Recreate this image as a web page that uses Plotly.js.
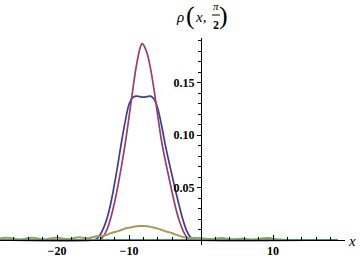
<!DOCTYPE html>
<html><head><meta charset="utf-8">
<script src="https://cdn.plot.ly/plotly-3.0.1.min.js"></script>
<style>html,body{margin:0;padding:0;background:#fff}#plot{width:360px;height:260px}</style>
</head><body><div id="plot"></div>
<script>
// Red (magenta) curve
const redX = [-28, -14.5, -14, -13.5, -13, -12.5, -12, -11.5, -11, -10.5, -10, -9.5, -9, -8.5, -8.2, -8, -7.5, -7, -6.5, -6, -5.5, -5, -4.5, -4, -3.5, -3, -2.5, -2, -1.5, -1, 19];
const redY = [0, 0, 0.0005, 0.004, 0.011, 0.022, 0.036, 0.053, 0.072, 0.093, 0.117, 0.142, 0.165, 0.182, 0.187, 0.186, 0.178, 0.163, 0.142, 0.118, 0.095, 0.077, 0.061, 0.045, 0.030, 0.018, 0.009, 0.003, 0.0005, 0, 0];
// Blue curve
const blueX = [-28, -15, -14.5, -14, -13.5, -13, -12.5, -12, -11.5, -11, -10.5, -10, -9.5, -9, -8.5, -8, -7.5, -7, -6.5, -6, -5.5, -5, -4.5, -4, -3.5, -3, -2.5, -2, -1.5, -1, -0.5, 19];
const blueY = [0, 0, 0.001, 0.005, 0.012, 0.022, 0.036, 0.054, 0.074, 0.095, 0.114, 0.129, 0.1355, 0.137, 0.1365, 0.136, 0.1365, 0.137, 0.134, 0.125, 0.110, 0.092, 0.076, 0.061, 0.046, 0.032, 0.019, 0.009, 0.003, 0.0005, 0, 0];
// Olive curve
const oliveX = [-28, -27.5, -27, -26.5, -26, -25.5, -25, -24.5, -24, -23.5, -23, -22.5, -22, -21.5, -21, -20.5, -20, -19.5, -19, -18.5, -18, -17.5, -17, -16.5, -16, -15.5, -15, -14.5, -14, -13.5, -13, -12.5, -12, -11.5, -11, -10.5, -10, -9.5, -9, -8.5, -8, -7.5, -7, -6.5, -6, -5.5, -5, -4.5, -4, -3.5, -3, -2.5, -2, -1.5, -1, -0.5, 0, 0.5, 1, 1.5, 2, 2.5, 3, 3.5, 4, 4.5, 5, 5.5, 6, 6.5, 7, 7.5, 8, 8.5, 9, 9.5, 10, 10.5, 11, 11.5, 12, 12.5, 19];
const oliveY = [0.0012, 0.0018, 0.0021, 0.0019, 0.0012, 0.0007, 0.0006, 0.0010, 0.0017, 0.0021, 0.0018, 0.0011, 0.0007, 0.0008, 0.0014, 0.0020, 0.0022, 0.0017, 0.0011, 0.0009, 0.0013, 0.0021, 0.0026, 0.0022, 0.0017, 0.0019, 0.0028, 0.0035, 0.0036, 0.0040, 0.0051, 0.0066, 0.0076, 0.0085, 0.0098, 0.0110, 0.0117, 0.0123, 0.0131, 0.0134, 0.0133, 0.0131, 0.0125, 0.0117, 0.0108, 0.0097, 0.0085, 0.0075, 0.0064, 0.0051, 0.0040, 0.0030, 0.0022, 0.0018, 0.0019, 0.0021, 0.0018, 0.0014, 0.0010, 0.0009, 0.0012, 0.0017, 0.0018, 0.0013, 0.0008, 0.0006, 0.0009, 0.0013, 0.0012, 0.0008, 0.0005, 0.0006, 0.0010, 0.0016, 0.0020, 0.0019, 0.0013, 0.0007, 0.0004, 0.0002, 0.0001, 0, 0];
// Green curve (zero)
const greenX = [-28, 19];
const greenY = [0, 0];

const xTickVals = [-20, -10, 10];
const xTickText = ['\u221220', '\u221210', '10'];
const yTickVals = [0.05, 0.10, 0.15];
const yTickText = ['0.05', '0.10', '0.15'];

const W = 360, H = 260, mL = 0, mR = 15, mT = 38, mB = 15;
const pw = W - mL - mR, ph = H - mT - mB;
const xr = [-201 / 7.2, 144 / 7.2];
const yr = [-5 / 1050, 202 / 1050];
function px(p) { return (p - mL) / pw; }
function py(p) { return (H - mB - p) / ph; }

const serif = '"Times New Roman", "Liberation Serif", serif';
const traces = [
  {x: blueX, y: blueY, mode: 'lines', line: {color: '#3d3d99', width: 1.7, shape: 'spline', smoothing: 0.9}},
  {x: redX, y: redY, mode: 'lines', line: {color: '#993d71', width: 1.7, shape: 'spline', smoothing: 0.9}},
  {x: oliveX, y: oliveY, mode: 'lines', line: {color: '#a89a55', width: 2, shape: 'spline', smoothing: 0.8}},
  {x: greenX, y: greenY, mode: 'lines', line: {color: '#3d9971', width: 2}}
];

const ann = (text, x, y, font) => ({text, xref: 'paper', yref: 'paper', x: px(x), y: py(y), showarrow: false, xanchor: 'center', yanchor: 'middle', font: Object.assign({family: serif, color: '#000'}, font)});
const tickFont = {family: serif, size: 12, color: '#000', weight: 700};

const layout = {
  width: W, height: H,
  margin: {l: mL, r: mR, t: mT, b: mB, pad: 0},
  paper_bgcolor: '#fff', plot_bgcolor: '#fff',
  showlegend: false,
  xaxis: {
    range: xr, anchor: 'free', position: py(240), showgrid: false, zeroline: false,
    showline: true, linecolor: '#000', linewidth: 1,
    tickmode: 'array', tickvals: xTickVals, ticktext: xTickText,
    ticks: 'inside', ticklen: 5, tickcolor: '#000', tickwidth: 1,
    tickfont: tickFont, ticklabelstandoff: 0,
    minor: {tickmode: 'linear', tick0: 0, dtick: 2, ticks: 'inside', ticklen: 3, tickcolor: '#000', tickwidth: 1, showgrid: false},
    fixedrange: true
  },
  yaxis: {
    range: yr, anchor: 'free', position: px(201), showgrid: false, zeroline: false,
    showline: true, linecolor: '#000', linewidth: 1,
    tickmode: 'array', tickvals: yTickVals, ticktext: yTickText,
    ticks: 'outside', ticklen: 4, tickcolor: '#000', tickwidth: 1,
    tickfont: tickFont, ticklabelstandoff: 0,
    minor: {tickmode: 'linear', tick0: 0, dtick: 0.01, ticks: 'outside', ticklen: 3, tickcolor: '#000', tickwidth: 1, showgrid: false},
    fixedrange: true
  },
  annotations: [
    ann('x', 352, 241, {size: 15, style: 'italic'}),
    ann('ρ', 180, 17, {size: 15, style: 'italic'}),
    ann('(', 190, 16, {size: 26}),
    ann('x,', 200, 17, {size: 15, style: 'italic'}),
    ann('π', 216, 6, {size: 11, style: 'italic'}),
    ann('2', 216, 25, {size: 12, weight: 700}),
    ann(')', 224, 16, {size: 26})
  ],
  shapes: [
    {type: 'line', xref: 'paper', yref: 'paper', x0: px(212), x1: px(220), y0: py(15), y1: py(15), line: {color: '#000', width: 1}}
  ]
};
Plotly.newPlot('plot', traces, layout, {staticPlot: true, displayModeBar: false});
</script></body></html>
